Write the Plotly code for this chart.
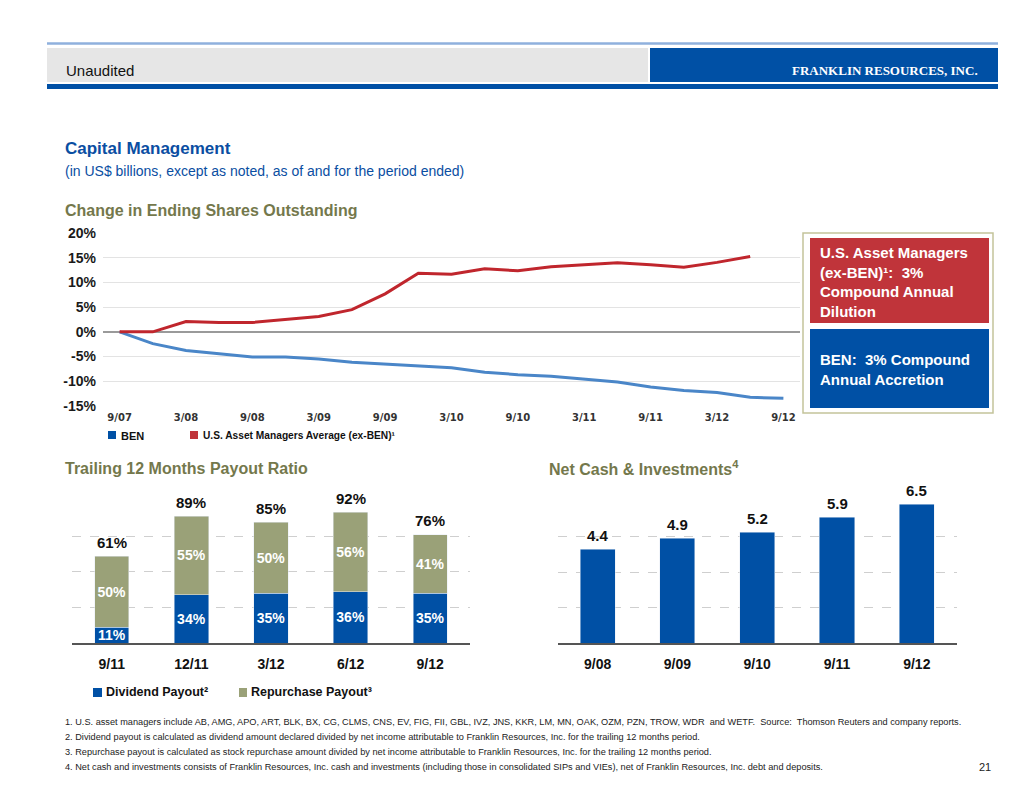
import plotly.graph_objects as go

# ---------------- data ----------------
quarters = ["9/07", "12/07", "3/08", "6/08", "9/08", "12/08", "3/09", "6/09", "9/09", "12/09",
            "3/10", "6/10", "9/10", "12/10", "3/11", "6/11", "9/11", "12/11", "3/12", "6/12", "9/12"]
quarter_ticks = quarters[::2]
ben_change = [0, -2.4, -3.8, -4.5, -5.1, -5.1, -5.5, -6.2, -6.6, -6.9,
              -7.3, -8.2, -8.7, -9.0, -9.6, -10.2, -11.2, -11.9, -12.3, -13.3, -13.5]
managers_change = [0, 0, 2.1, 1.9, 1.9, 2.5, 3.1, 4.5, 7.7, 11.9,
                   11.7, 12.8, 12.4, 13.2, 13.6, 14.0, 13.6, 13.1, 14.1, 15.3]
line_yticks = [20, 15, 10, 5, 0, -5, -10, -15]

payout_periods = ["9/11", "12/11", "3/12", "6/12", "9/12"]
dividend_payout = [11, 34, 35, 36, 35]
repurchase_payout = [50, 55, 50, 56, 41]
payout_total = [d + r for d, r in zip(dividend_payout, repurchase_payout)]

cash_periods = ["9/08", "9/09", "9/10", "9/11", "9/12"]
net_cash = [4.4, 4.9, 5.2, 5.9, 6.5]

footnotes = [
    "1. U.S. asset managers include AB, AMG, APO, ART, BLK, BX, CG, CLMS, CNS, EV, FIG, FII, GBL, IVZ, JNS, KKR, LM, MN, OAK, OZM, PZN, TROW, WDR  and WETF.  Source:  Thomson Reuters and company reports.",
    "2. Dividend payout is calculated as dividend amount declared divided by net income attributable to Franklin Resources, Inc. for the trailing 12 months period.",
    "3. Repurchase payout is calculated as stock repurchase amount divided by net income attributable to Franklin Resources, Inc. for the trailing 12 months period.",
    "4. Net cash and investments consists of Franklin Resources, Inc. cash and investments (including those in consolidated SIPs and VIEs), net of Franklin Resources, Inc. debt and deposits.",
]

# ---------------- style ----------------
W, H = 1034, 799
def px(x): return x / W
def py(y): return 1 - y / H

BLUE = "#0050a5"
RED_BOX = "#c0343a"
LINE_RED = "#c0262d"
LINE_BLUE = "#4a86c8"
GREEN = "#9aa178"
OLIVE = "#74784c"
TITLE_BLUE = "#0a4ea2"
SANS = "Liberation Sans, Arial"

fig = go.Figure()

# ---------------- line chart ----------------
fig.add_trace(go.Scatter(x=quarters, y=ben_change, mode="lines", name="BEN",
                         line=dict(color=LINE_BLUE, width=3), xaxis="x", yaxis="y",
                         showlegend=False))
fig.add_trace(go.Scatter(x=quarters[:len(managers_change)], y=managers_change, mode="lines",
                         name="U.S. Asset Managers Average (ex-BEN)",
                         line=dict(color=LINE_RED, width=3), xaxis="x", yaxis="y",
                         showlegend=False))

# ---------------- payout chart ----------------
inside_font = dict(family=SANS, size=14, color="white", weight="bold")
fig.add_trace(go.Bar(x=payout_periods, y=dividend_payout, marker_color=BLUE, width=0.43,
                     text=[f"{v}%" for v in dividend_payout], textposition="inside",
                     insidetextanchor="middle", constraintext="none", textangle=0,
                     textfont=inside_font, xaxis="x2", yaxis="y2", showlegend=False,
                     cliponaxis=False))
fig.add_trace(go.Bar(x=payout_periods, y=repurchase_payout, marker_color=GREEN, width=0.43,
                     text=[f"{v}%" for v in repurchase_payout], textposition="inside",
                     insidetextanchor="middle", constraintext="none", textangle=0,
                     textfont=inside_font, xaxis="x2", yaxis="y2", showlegend=False,
                     cliponaxis=False))

# ---------------- net cash chart ----------------
fig.add_trace(go.Bar(x=cash_periods, y=net_cash, marker_color=BLUE, width=0.44,
                     xaxis="x3", yaxis="y3", showlegend=False, cliponaxis=False))

fig.update_layout(
    width=W, height=H, autosize=False,
    margin=dict(l=0, r=0, t=0, b=0, pad=0, autoexpand=False),
    paper_bgcolor="white", plot_bgcolor="rgba(0,0,0,0)",
    barmode="stack",
    uniformtext=dict(mode="show", minsize=14),
    xaxis=dict(domain=[px(103), px(800)], type="category", tickvals=quarter_ticks,
               ticktext=quarter_ticks, showgrid=False, showline=False, ticks="",
               tickfont=dict(family="DejaVu Sans", size=10, color="#333", weight="bold"),
               ticklabelstandoff=4,
               range=[-0.5, len(quarters) - 0.5], anchor="y", fixedrange=True),
    yaxis=dict(domain=[py(405.7), py(233.3)], range=[-15, 20], tickvals=line_yticks,
               ticktext=[f"{v}%" for v in line_yticks], showgrid=True, gridcolor="#e3e3e3",
               gridwidth=1, zeroline=True, zerolinecolor="#9a9a9a", zerolinewidth=1.5,
               tickfont=dict(family=SANS, size=14, color="#1a1a1a", weight="bold"),
               ticklabelstandoff=6, anchor="x", fixedrange=True),
    xaxis2=dict(domain=[px(72), px(470)], type="category", showgrid=False,
                showline=True, linecolor="#555", linewidth=1.5, ticks="",
                tickfont=dict(family=SANS, size=14, color="#111", weight="bold"),
                ticklabelstandoff=7, anchor="y2"),
    yaxis2=dict(domain=[py(643), py(500.7)], range=[0, 100], tickvals=[25, 50, 75, 100],
                showticklabels=False, showgrid=True, gridcolor="#cfcfcf", griddash="dash",
                gridwidth=1, zeroline=False, anchor="x2"),
    xaxis3=dict(domain=[px(557.7), px(956.7)], type="category", showgrid=False,
                showline=True, linecolor="#555", linewidth=1.5, ticks="",
                tickfont=dict(family=SANS, size=14, color="#111", weight="bold"),
                ticklabelstandoff=7, anchor="y3"),
    yaxis3=dict(domain=[py(643.3), py(500.7)], range=[0, 20 / 3], dtick=5 / 3,
                showticklabels=False, showgrid=True, gridcolor="#cfcfcf", griddash="dash",
                gridwidth=1, zeroline=False, anchor="x3"),
)

shapes = []
def rect(x0, y0, x1, y1, fill, line_color=None, lw=0):
    shapes.append(dict(type="rect", xref="paper", yref="paper",
                       x0=px(x0), x1=px(x1), y0=py(y1), y1=py(y0),
                       fillcolor=fill, line=dict(color=line_color or fill, width=lw),
                       layer="below"))

# header
shapes.append(dict(type="line", xref="paper", yref="paper", x0=px(47), x1=px(998),
                   y0=py(43.5), y1=py(43.5), line=dict(color="#8fb0dd", width=2.5)))
rect(47, 48, 648, 82, "#e6e6e6")
rect(650, 48, 998, 82, BLUE)
rect(47, 84, 998, 89, BLUE)
# right info boxes
shapes.append(dict(type="rect", xref="paper", yref="paper", x0=px(803), x1=px(993),
                   y0=py(413), y1=py(233), line=dict(color="#c3c39a", width=1.5),
                   fillcolor="rgba(0,0,0,0)"))
rect(810, 238, 989, 323, RED_BOX)
rect(810, 329, 989, 408, BLUE)
# legend swatches
rect(108, 431, 116, 439, BLUE)
rect(190, 431, 198, 439, RED_BOX)
rect(93, 688, 102, 697, BLUE)
rect(239, 688, 247, 697, GREEN)
fig.update_layout(shapes=shapes)

ann = []
def text(x, y, s, size, color="#111", family=SANS, xanchor="left", yanchor="middle", align="left"):
    ann.append(dict(x=px(x), y=py(y), xref="paper", yref="paper", text=s, showarrow=False,
                    xanchor=xanchor, yanchor=yanchor, align=align,
                    font=dict(size=size, color=color, family=family)))

text(64, 70, "Unaudited", 15, "#111")
text(980, 70, "<b>FRANKLIN RESOURCES, INC.</b>", 13, "white",
     family="Liberation Serif, Times New Roman", xanchor="right")
text(63, 148, "<b>Capital Management</b>", 17, TITLE_BLUE)
text(63, 171, "(in US$ billions, except as noted, as of and for the period ended)", 14, TITLE_BLUE)
text(63, 210, "<b>Change in Ending Shares Outstanding</b>", 16, OLIVE)
text(63, 468, "<b>Trailing 12 Months Payout Ratio</b>", 16, OLIVE)
text(547, 468, "<b>Net Cash &amp; Investments<sup>4</sup></b>", 16, OLIVE)

text(119, 436, "<b>BEN</b>", 11, "#111")
text(201, 436, "<b>U.S. Asset Managers Average (ex-BEN)¹</b>", 10.2, "#111")
text(104, 692, "<b>Dividend Payout²</b>", 12.5, "#111")
text(249, 692, "<b>Repurchase Payout³</b>", 12.5, "#111")

text(818, 282, "<b>U.S. Asset Managers<br>(ex-BEN)¹:  3%<br>Compound Annual<br>Dilution</b>", 15, "white")
text(818, 369, "<b>BEN:  3% Compound<br>Annual Accretion</b>", 15, "white")

for i, f in enumerate(footnotes):
    text(63, 722 + 15 * i, f, 9.2, "#222")
text(985, 767, "21", 11, "#222", xanchor="center")

# value labels above bars (placed through the data axes)
for p, t in zip(payout_periods, payout_total):
    ann.append(dict(x=p, y=t, xref="x2", yref="y2", text=f"<b>{t}%</b>", showarrow=False,
                    yanchor="middle", yshift=14, font=dict(size=15, color="#111", family=SANS)))
for p, v in zip(cash_periods, net_cash):
    ann.append(dict(x=p, y=v, xref="x3", yref="y3", text=f"<b>{v:.1f}</b>", showarrow=False,
                    yanchor="middle", yshift=14, font=dict(size=15, color="#111", family=SANS)))

fig.update_layout(annotations=ann)

fig.write_html("out.html", config={"displayModeBar": False},
               post_script="document.body.style.margin='0';")
